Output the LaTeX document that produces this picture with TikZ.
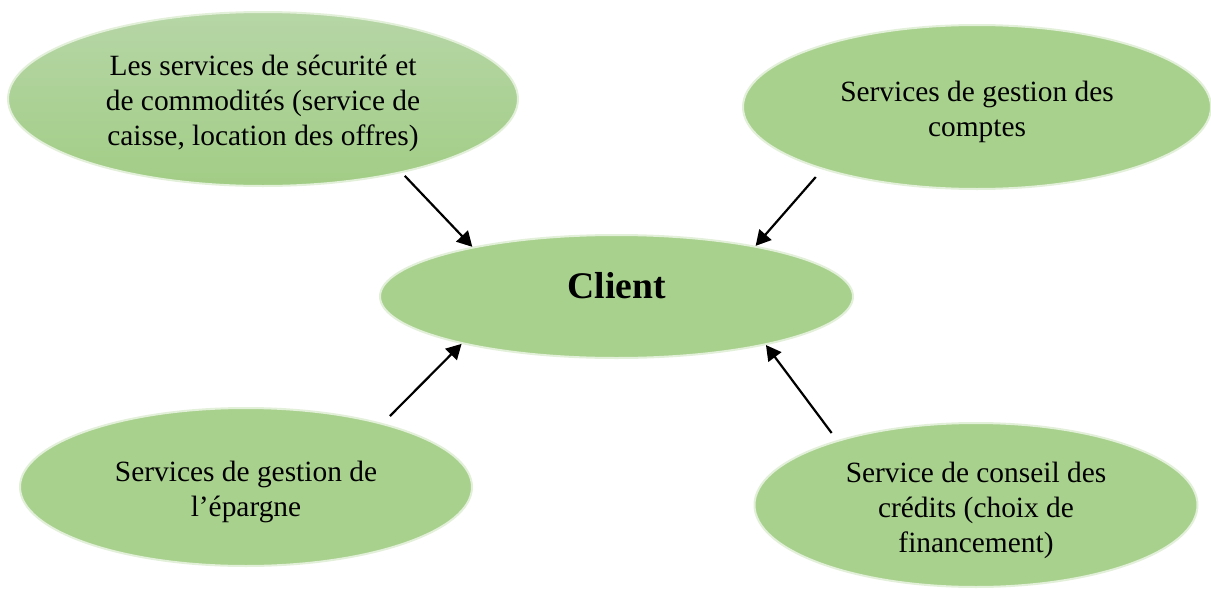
\documentclass[tikz,border=0pt]{standalone}
\usepackage{fontspec}
\setmainfont{Liberation Serif}
\usetikzlibrary{shapes.geometric,arrows.meta}
\definecolor{bubblefill}{HTML}{A9D18E}
\definecolor{bubblerim}{HTML}{E2EFD9}
\definecolor{bubbletop}{HTML}{B6D6A6}
\definecolor{bubblebot}{HTML}{A2CD86}
% invisible strut that lowers a text block a little inside its bubble
\newcommand\toppad{\rule{0pt}{15pt}}
\begin{document}
\begin{tikzpicture}[x=0.5pt,y=-0.5pt,
  bubble/.style={ellipse, fill=bubblefill, draw=bubblerim, line width=1pt,
    inner sep=0pt, align=center, font=\fontsize{14.7}{17.5}\selectfont},
  link/.style={-{Triangle[length=7.5pt,width=8pt]}, line width=1.1pt, draw=black}]
\useasboundingbox (0,0) rectangle (1211,589);

% services around the client
\node[bubble, top color=bubbletop, bottom color=bubblebot,
      minimum width=255pt, minimum height=87pt] (secu) at (263,99)
  {\toppad Les services de sécurité et\\de commodités (service de\\caisse, location des offres)};
\node[bubble, minimum width=234pt, minimum height=82pt] (comptes) at (977,107)
  {\toppad Services de gestion des\\comptes};
\node[bubble, minimum width=226pt, minimum height=79pt] (epargne) at (246,487)
  {\toppad Services de gestion de\\l’épargne};
\node[bubble, minimum width=221.5pt, minimum height=82pt] (credits) at (976,505)
  {\rule{0pt}{16pt}Service de conseil des\\crédits (choix de\\financement)};

% central client
\node[bubble, minimum width=236.5pt, minimum height=61.5pt,
      font=\fontsize{18.8}{22}\selectfont\bfseries, text depth=11pt] (client) at (616.5,296.5)
  {Client};

% connectors towards the client, leaving a small gap at the service side
\draw[link, shorten <=2pt] (secu.-28.2) -- (client.161);
\draw[link, shorten <=5pt] (comptes.202.5) -- (client.20.1);
\draw[link, shorten <=5pt] (epargne.25.1) -- (client.-163.6);
\draw[link, shorten <=4.5pt] (credits.155) -- (client.-18.4);
\end{tikzpicture}
\end{document}
